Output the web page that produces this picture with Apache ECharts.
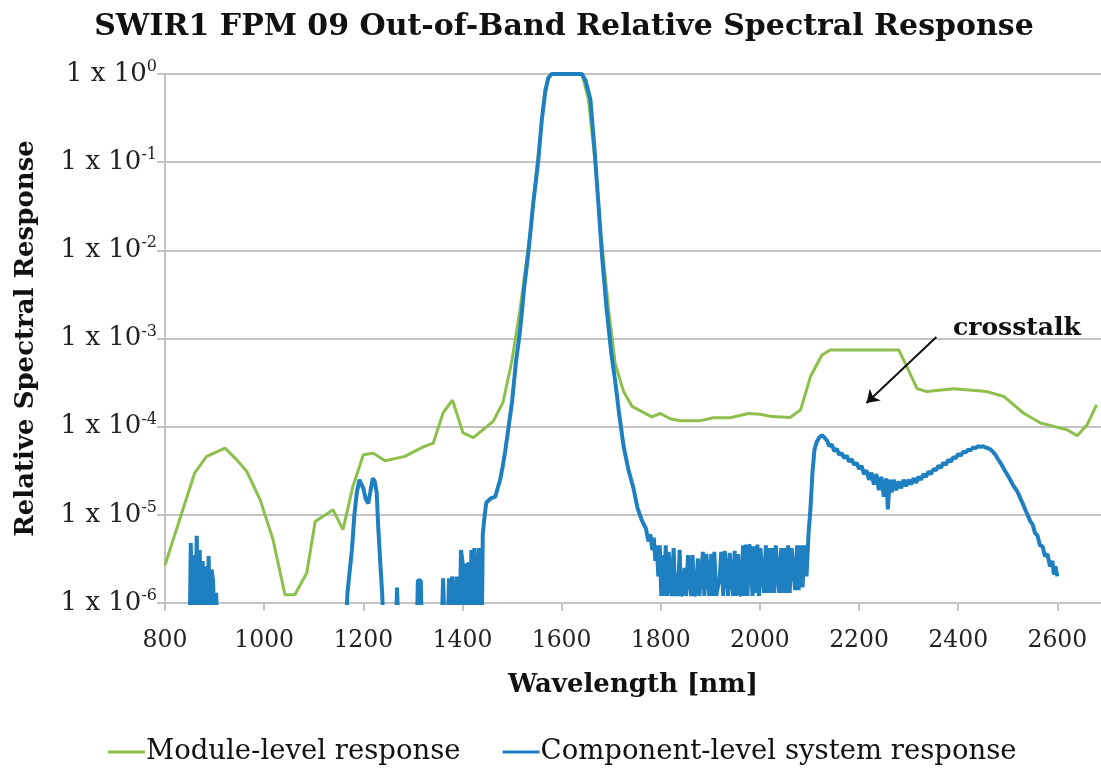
<!DOCTYPE html>
<html>
<head>
<meta charset="utf-8">
<script src="https://cdn.jsdelivr.net/npm/echarts@6/dist/echarts.min.js"></script>
<style>
  html, body { margin: 0; padding: 0; background: #fff; }
  #chart { width: 1101px; height: 770px; }
</style>
</head>
<body>
<div id="chart"></div>
<script>
// Module-level response [wavelength nm, relative response]
var moduleResponse = [
  [800, 2.7e-6], [860, 3e-5], [884, 4.6e-5], [921, 5.7e-5], [945, 4.2e-5], [965, 3.1e-5],
  [992, 1.48e-5], [1018, 5.2e-6], [1042, 1.24e-6], [1062, 1.24e-6], [1086, 2.2e-6],
  [1103, 8.4e-6], [1139, 1.14e-5], [1159, 6.8e-6], [1179, 2.1e-5], [1200, 4.8e-5],
  [1220, 5e-5], [1244, 4.1e-5], [1284, 4.6e-5], [1321, 5.9e-5], [1341, 6.5e-5],
  [1361, 1.44e-4], [1380, 2e-4], [1401, 8.5e-5], [1422, 7.5e-5], [1462, 1.15e-4],
  [1482, 1.9e-4], [1500, 5.7e-4], [1516, 2.1e-3], [1537, 1.64e-2], [1553, 0.127],
  [1567, 0.68], [1577, 1], [1641, 1], [1654, 0.52], [1668, 0.096], [1678, 0.018],
  [1695, 2.1e-3], [1708, 5.2e-4], [1725, 2.5e-4], [1742, 1.7e-4], [1782, 1.29e-4],
  [1799, 1.41e-4], [1819, 1.23e-4], [1839, 1.17e-4], [1880, 1.17e-4], [1906, 1.26e-4],
  [1940, 1.26e-4], [1977, 1.41e-4], [2000, 1.38e-4], [2025, 1.3e-4], [2061, 1.27e-4],
  [2082, 1.55e-4], [2102, 3.7e-4], [2125, 6.5e-4], [2142, 7.4e-4], [2280, 7.4e-4],
  [2293, 5.25e-4], [2317, 2.7e-4], [2337, 2.5e-4], [2391, 2.7e-4], [2458, 2.5e-4],
  [2492, 2.2e-4], [2532, 1.42e-4], [2566, 1.1e-4], [2620, 9.2e-5], [2640, 7.9e-5],
  [2660, 1.05e-4], [2679, 1.77e-4]
];

// Component-level system response (values under 1e-6 fall below the plot and are clipped)
var componentResponse = [
  [850, 5e-7], [852, 4.8e-6], [855, 5e-7], [858, 3.5e-6], [861, 5e-7], [864, 5.8e-6],
  [867, 5e-7], [870, 4e-6], [873, 5e-7], [876, 3e-6], [879, 5e-7], [882, 2.6e-6],
  [885, 5e-7], [888, 3.4e-6], [891, 5e-7], [894, 2.4e-6], [897, 1.75e-6], [900, 5e-7],
  [903, 1.3e-6], [906, 5e-7],
  [1165, 5e-7], [1168, 1.3e-6], [1172, 1.3e-6], [1177, 4e-6], [1182, 1e-5], [1187, 1.8e-5],
  [1192, 2.5e-5], [1196, 2.4e-5], [1200, 2e-5], [1205, 1.5e-5], [1210, 1.35e-5],
  [1214, 1.8e-5], [1219, 2.6e-5], [1223, 2.4e-5], [1227, 1.8e-5], [1230, 7.5e-6],
  [1234, 3e-6], [1238, 1.3e-6], [1241, 5e-7],
  [1266, 5e-7], [1268, 1.5e-6], [1271, 5e-7], [1308, 5e-7], [1310, 1.8e-6], [1316, 1.8e-6],
  [1318, 5e-7], [1358, 5e-7], [1361, 1.9e-6], [1364, 5e-7], [1370, 5e-7], [1373, 1.9e-6],
  [1376, 5e-7], [1379, 2e-6], [1382, 1.9e-6], [1385, 5e-7], [1388, 2e-6], [1391, 1.9e-6],
  [1394, 5e-7], [1397, 4e-6], [1400, 3e-6], [1403, 5e-7], [1406, 2.8e-6], [1409, 5e-7],
  [1412, 2.9e-6], [1415, 5e-7], [1418, 4e-6], [1421, 5e-7], [1424, 4.2e-6], [1427, 4.2e-6],
  [1430, 5e-7], [1433, 4.2e-6], [1436, 4.2e-6], [1439, 5e-7], [1441, 6e-6], [1444, 9e-6],
  [1448, 1.37e-5], [1452, 1.4e-5], [1458, 1.55e-5], [1466, 1.6e-5], [1471, 2e-5],
  [1476, 2.5e-5], [1481, 3.5e-5], [1486, 5.2e-5], [1492, 9e-5], [1500, 1.9e-4],
  [1508, 5.5e-4], [1516, 1.2e-3], [1525, 4e-3], [1533, 9.5e-3], [1543, 3.5e-2],
  [1553, 0.105], [1560, 0.3], [1567, 0.63], [1573, 0.9], [1580, 1], [1641, 1],
  [1648, 0.85], [1658, 0.52], [1666, 0.15], [1674, 0.035], [1682, 8e-3], [1691, 2.1e-3],
  [1700, 7e-4], [1708, 3.3e-4], [1716, 1.4e-4], [1725, 6e-5], [1735, 3.2e-5], [1745, 2e-5],
  [1753, 1.2e-5], [1762, 8.6e-6], [1770, 7e-6], [1775, 5e-6], [1779, 6e-6], [1783, 4e-6],
  [1786, 5.5e-6], [1789, 3e-6], [1792, 4.5e-6], [1795, 2e-6], [1798, 4.5e-6], [1801, 1.2e-6],
  [1804, 3.5e-6], [1807, 1.2e-6], [1810, 4.5e-6], [1813, 1.2e-6], [1816, 3.8e-6],
  [1819, 4e-6], [1822, 1.2e-6], [1826, 4.2e-6], [1829, 1.2e-6], [1832, 2.2e-6],
  [1835, 1.2e-6], [1838, 4e-6], [1841, 1.2e-6], [1845, 1.3e-6], [1848, 2.5e-6],
  [1851, 1.2e-6], [1855, 3.5e-6], [1858, 3.6e-6], [1861, 1.2e-6], [1864, 3.5e-6],
  [1868, 1.2e-6], [1871, 1.3e-6], [1875, 3.2e-6], [1878, 1.2e-6], [1882, 1.2e-6],
  [1885, 3.8e-6], [1888, 1.2e-6], [1892, 3.6e-6], [1895, 3.6e-6], [1898, 1.2e-6],
  [1902, 3.6e-6], [1905, 1.2e-6], [1908, 3.8e-6], [1912, 1.2e-6], [1915, 1.2e-6],
  [1919, 2e-6], [1922, 3.8e-6], [1926, 1.2e-6], [1929, 3.9e-6], [1933, 3.9e-6],
  [1936, 1.2e-6], [1939, 3.7e-6], [1942, 3.7e-6], [1946, 1.2e-6], [1949, 3.9e-6],
  [1952, 1.2e-6], [1956, 3.6e-6], [1959, 1.3e-6], [1962, 1.2e-6], [1966, 4.5e-6],
  [1969, 1.2e-6], [1972, 4.6e-6], [1975, 1.2e-6], [1978, 4.6e-6], [1981, 4.2e-6],
  [1985, 1.2e-6], [1988, 4.4e-6], [1991, 1.3e-6], [1995, 4.6e-6], [1998, 1.2e-6],
  [2001, 4.2e-6], [2005, 4.2e-6], [2008, 1.3e-6], [2012, 4.5e-6], [2015, 1.3e-6],
  [2019, 4.2e-6], [2022, 1.3e-6], [2025, 4.2e-6], [2029, 1.3e-6], [2032, 4.5e-6],
  [2036, 4.5e-6], [2039, 1.3e-6], [2043, 4.2e-6], [2046, 1.3e-6], [2050, 4.2e-6],
  [2053, 1.3e-6], [2057, 4.5e-6], [2060, 1.3e-6], [2064, 4.2e-6], [2067, 4.2e-6],
  [2071, 1.4e-6], [2075, 4.5e-6], [2078, 1.4e-6], [2082, 4.5e-6], [2086, 1.5e-6],
  [2090, 4.5e-6], [2094, 2e-6], [2098, 6e-6], [2102, 1.2e-5], [2106, 3e-5], [2110, 5.5e-5],
  [2115, 6.8e-5], [2120, 7.6e-5], [2126, 8e-5], [2130, 7.8e-5], [2135, 7e-5], [2140, 6e-5],
  [2145, 6.3e-5], [2150, 5.3e-5], [2155, 5.6e-5], [2160, 4.8e-5], [2165, 5e-5],
  [2170, 4.4e-5], [2175, 4.7e-5], [2180, 4e-5], [2185, 4.3e-5], [2190, 3.7e-5],
  [2195, 3.9e-5], [2200, 3.3e-5], [2205, 3.6e-5], [2210, 2.9e-5], [2215, 3.2e-5],
  [2220, 2.5e-5], [2225, 3e-5], [2230, 2.2e-5], [2235, 2.9e-5], [2240, 1.9e-5],
  [2245, 2.7e-5], [2250, 1.6e-5], [2255, 2.6e-5], [2258, 1.15e-5], [2262, 2.5e-5],
  [2266, 1.8e-5], [2270, 2.5e-5], [2275, 1.9e-5], [2280, 2.4e-5], [2285, 2e-5],
  [2290, 2.5e-5], [2295, 2.1e-5], [2300, 2.5e-5], [2305, 2.2e-5], [2310, 2.6e-5],
  [2315, 2.3e-5], [2320, 2.7e-5], [2325, 2.5e-5], [2330, 2.9e-5], [2335, 2.7e-5],
  [2340, 3.1e-5], [2345, 2.9e-5], [2350, 3.3e-5], [2355, 3.2e-5], [2360, 3.6e-5],
  [2365, 3.4e-5], [2370, 3.9e-5], [2375, 3.7e-5], [2380, 4.2e-5], [2385, 4e-5],
  [2390, 4.5e-5], [2395, 4.4e-5], [2400, 4.9e-5], [2405, 4.7e-5], [2410, 5.2e-5],
  [2415, 5.1e-5], [2420, 5.5e-5], [2425, 5.4e-5], [2430, 5.8e-5], [2435, 5.7e-5],
  [2440, 6e-5], [2445, 5.9e-5], [2450, 6e-5], [2455, 5.8e-5], [2460, 5.7e-5],
  [2465, 5.5e-5], [2470, 5.2e-5], [2475, 4.8e-5], [2480, 4.3e-5], [2485, 3.9e-5],
  [2490, 3.5e-5], [2495, 3.1e-5], [2500, 2.8e-5], [2505, 2.5e-5], [2510, 2.2e-5],
  [2515, 2e-5], [2520, 1.8e-5], [2525, 1.55e-5], [2530, 1.35e-5], [2535, 1.15e-5],
  [2540, 1e-5], [2545, 8.5e-6], [2550, 7.8e-6], [2555, 6.2e-6], [2560, 5.8e-6],
  [2565, 4.5e-6], [2570, 4.4e-6], [2575, 3.4e-6], [2580, 3.6e-6], [2585, 2.6e-6],
  [2590, 3e-6], [2593, 2.1e-6], [2596, 2.6e-6], [2600, 2e-6]
];

// crosstalk arrow, in data coordinates (tail, head)
var crosstalkArrow = [[2356, 1.04e-3], [2215, 1.86e-4]];

var serif = "DejaVu Serif";
var gridColor = "#c4c4c4";

var chart = echarts.init(document.getElementById("chart"));

var option = {
  animation: false,
  title: {
    text: "SWIR1 FPM 09 Out-of-Band Relative Spectral Response",
    left: 559,
    textAlign: "center",
    top: 7,
    textStyle: { fontFamily: serif, fontWeight: "bold", fontSize: 30, color: "#111" }
  },
  grid: { left: 165, right: 0, top: 74, bottom: 167 },
  legend: {
    left: 103,
    top: 733,
    itemWidth: 37,
    itemHeight: 3,
    itemGap: 42,
    icon: "rect",
    textStyle: { fontFamily: serif, fontSize: 27.5, color: "#111", padding: [0, 0, 0, -4] },
    data: ["Module-level response", "Component-level system response"]
  },
  xAxis: {
    type: "value",
    min: 800,
    max: 2688,
    interval: 200,
    name: "Wavelength [nm]",
    nameLocation: "middle",
    nameGap: 69,
    nameTextStyle: { fontFamily: serif, fontWeight: "bold", fontSize: 26, color: "#111" },
    axisLine: { lineStyle: { color: gridColor, width: 2 } },
    axisTick: { length: 8, lineStyle: { color: gridColor, width: 2 } },
    axisLabel: {
      fontFamily: serif, fontSize: 23.5, color: "#222", margin: 26, showMaxLabel: false,
      formatter: function (v) { return String(v); }
    },
    splitLine: { show: false }
  },
  yAxis: {
    type: "log",
    logBase: 10,
    min: 1e-6,
    max: 1,
    name: "Relative Spectral Response",
    nameLocation: "middle",
    nameGap: 126,
    nameTextStyle: { fontFamily: serif, fontWeight: "bold", fontSize: 26, color: "#111" },
    axisLine: { show: true, lineStyle: { color: gridColor, width: 2 } },
    axisTick: { show: true, length: 8, lineStyle: { color: gridColor, width: 2 } },
    splitLine: { lineStyle: { color: gridColor, width: 2 } },
    axisLabel: {
      margin: 8,
      formatter: function (v) {
        var e = Math.round(Math.log10(v));
        return "{b|1 x 10}{s|" + e + "}";
      },
      rich: {
        b: { fontFamily: serif, fontSize: 26, color: "#222", lineHeight: 30 },
        s: { fontFamily: serif, fontSize: 16, color: "#222", lineHeight: 14, verticalAlign: "top" }
      }
    }
  },
  graphic: [
    {
      type: "text",
      left: 953,
      top: 316,
      style: { text: "crosstalk", font: "bold 25px 'DejaVu Serif'", fill: "#111" }
    }
  ],
  series: [
    {
      name: "Module-level response",
      type: "line",
      data: moduleResponse,
      symbol: "none",
      clip: true,
      color: "#8cbf4b",
      lineStyle: { width: 3, color: "#8cbf4b" },
      z: 2
    },
    {
      name: "Component-level system response",
      type: "line",
      data: componentResponse,
      symbol: "none",
      clip: true,
      color: "#1f80c1",
      lineStyle: { width: 4, color: "#1f80c1" },
      z: 3,
      markLine: {
        silent: true,
        symbol: ["none", "arrow"],
        symbolSize: 12,
        label: { show: false },
        lineStyle: { color: "#111", width: 2, type: "solid" },
        data: [[{ coord: crosstalkArrow[0] }, { coord: crosstalkArrow[1] }]]
      }
    }
  ]
};

option && chart.setOption(option);
</script>
</body>
</html>
